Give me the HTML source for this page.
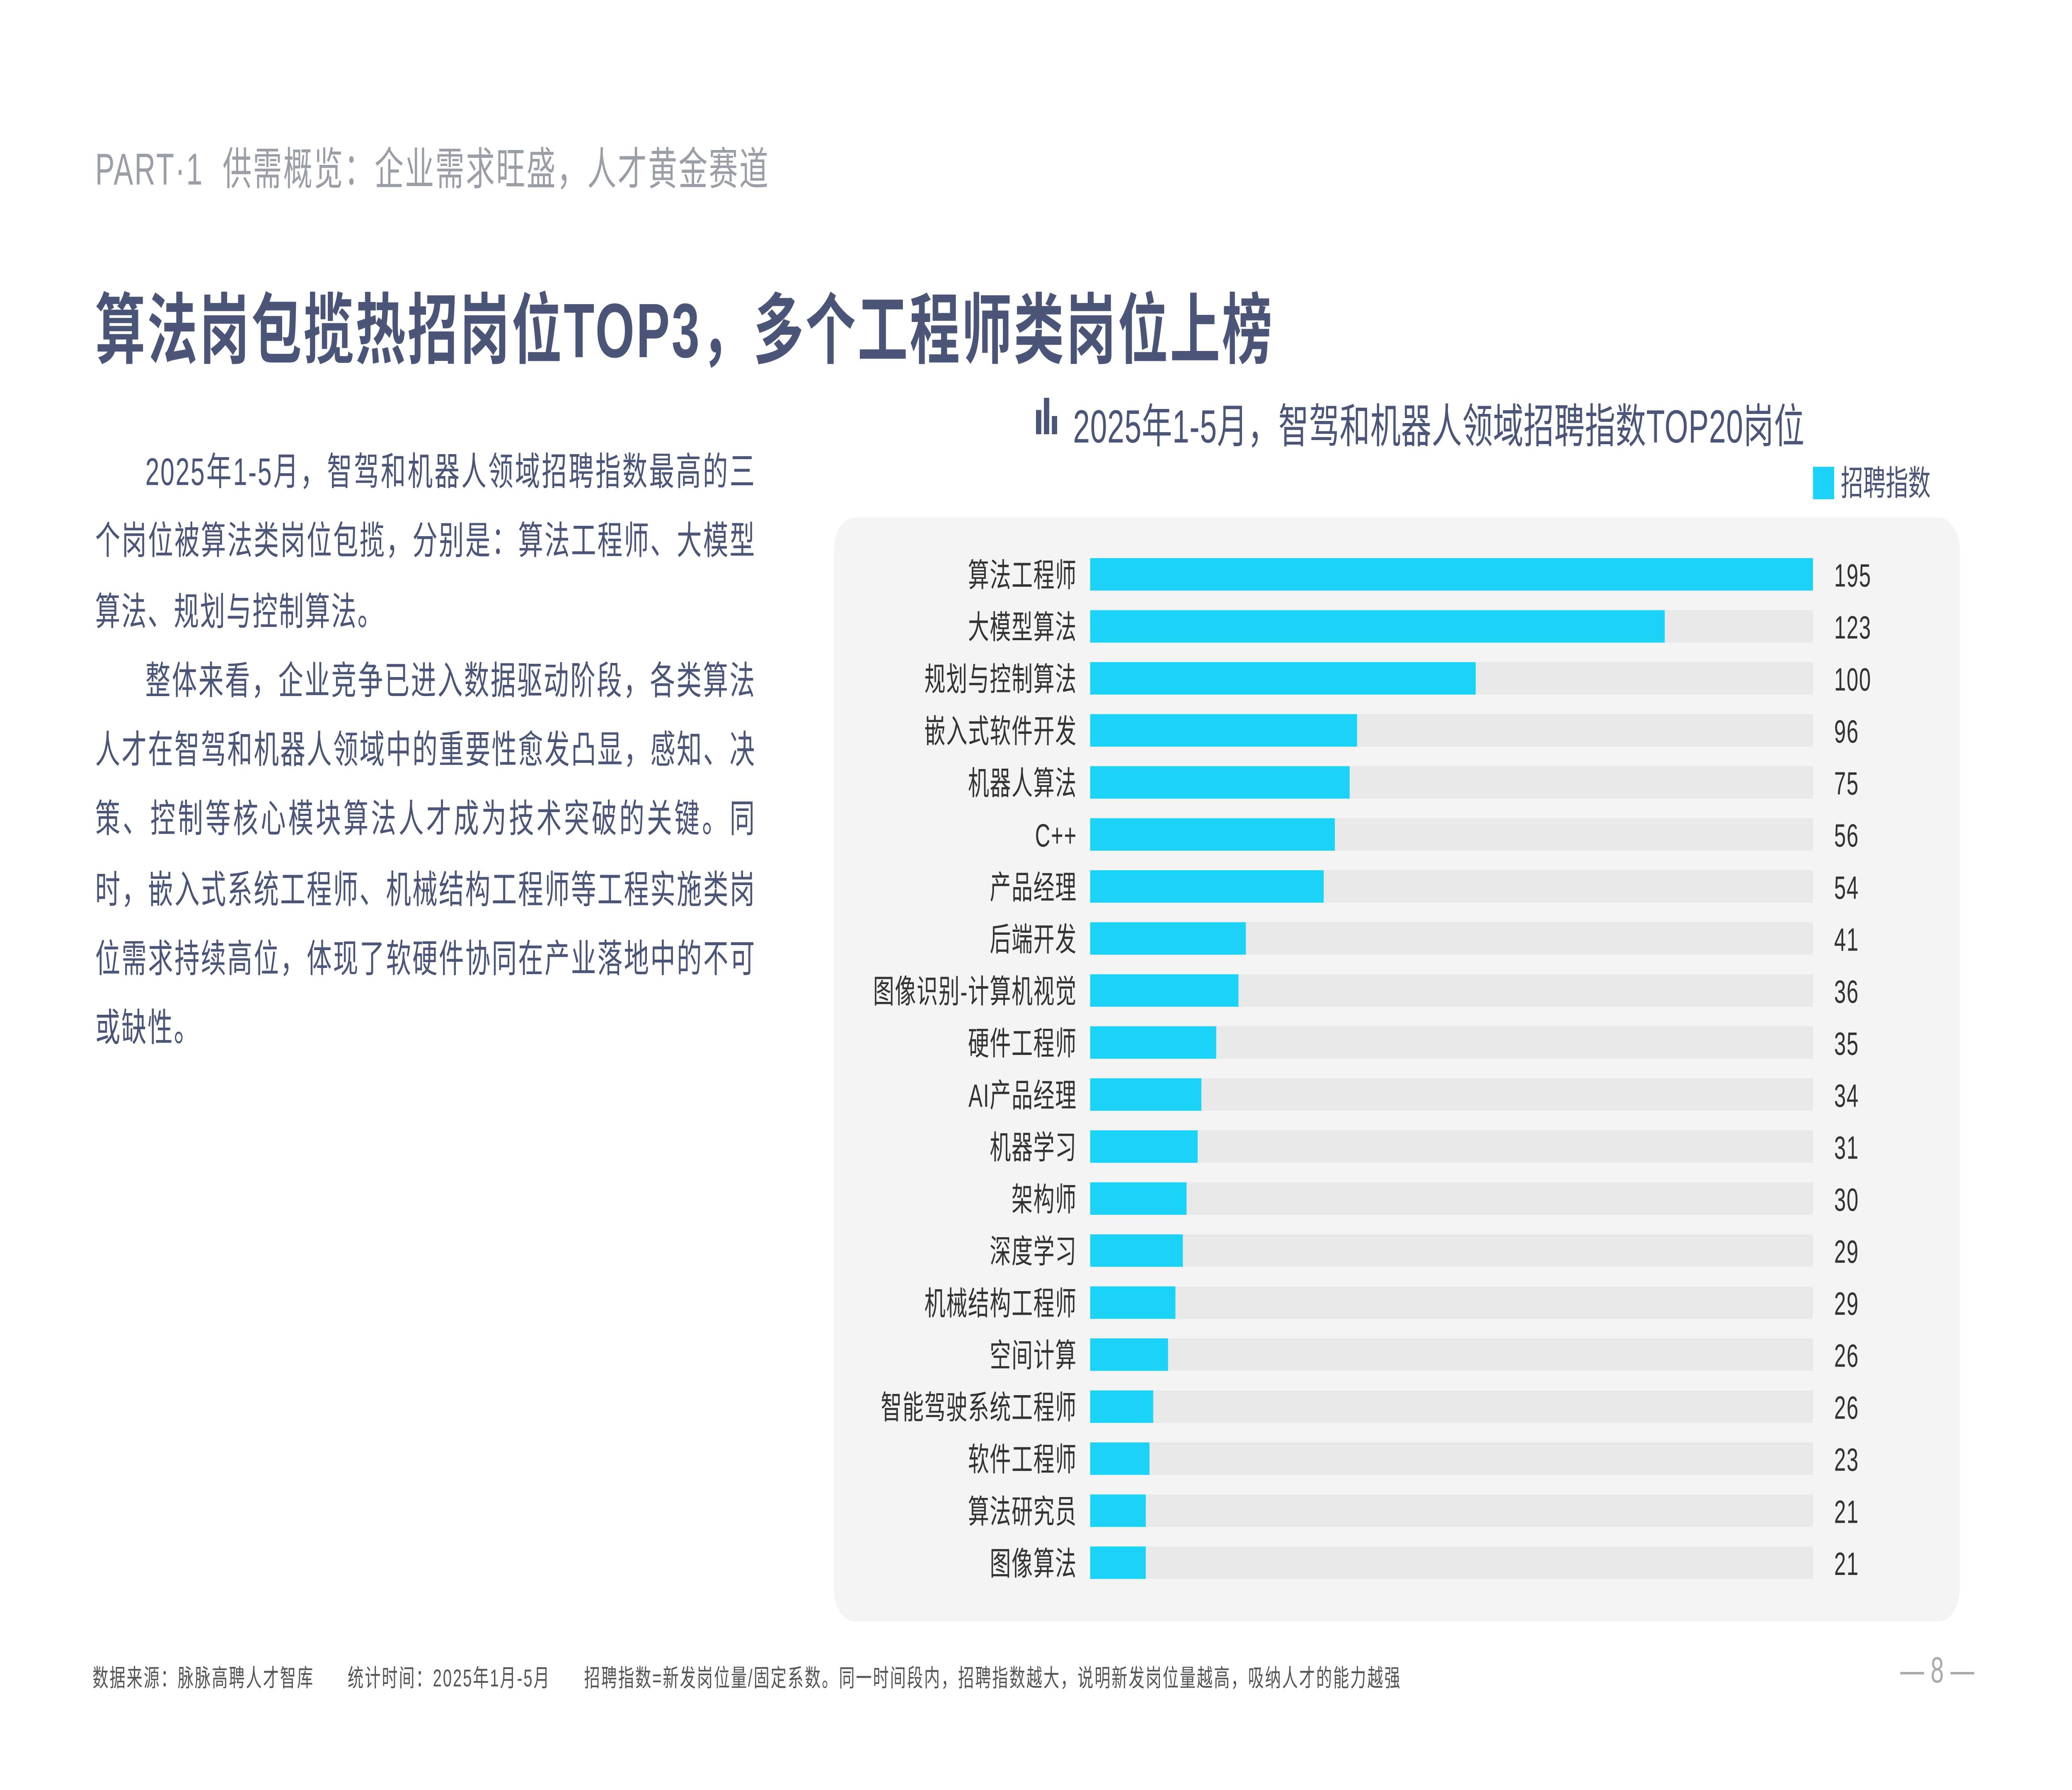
<!DOCTYPE html>
<html><head><meta charset="utf-8"><style>
html,body{margin:0;padding:0;background:#fff;overflow:hidden;}
#s{position:absolute;left:0;top:0;width:1568px;height:882px;transform:scale(4.898);transform-origin:0 0;font-family:"Liberation Sans","Noto Sans CJK SC",sans-serif;}
.a{position:absolute;white-space:nowrap;}
p{margin:0}
</style></head><body><div id="s">
<div class="a" style="left:72px;top:66px;font-size:22px;color:#9a9ea6;letter-spacing:1px">PART·1&nbsp; 供需概览：企业需求旺盛，人才黄金赛道</div>
<div class="a" style="left:72px;top:132px;font-size:38px;font-weight:bold;color:#4b5577;letter-spacing:1.4px">算法岗包揽热招岗位TOP3，多个工程师类岗位上榜</div>
<div class="a" style="left:72px;top:217px;width:500px;white-space:normal;font-size:19px;line-height:34.3px;color:#4b5577;text-align:justify;letter-spacing:0.85px">
<p style="text-indent:2em">2025年1-5月，智驾和机器人领域招聘指数最高的三个岗位被算法类岗位包揽，分别是：算法工程师、大模型算法、规划与控制算法。</p>
<p style="text-indent:2em">整体来看，企业竞争已进入数据驱动阶段，各类算法人才在智驾和机器人领域中的重要性愈发凸显，感知、决策、控制等核心模块算法人才成为技术突破的关键。同时，嵌入式系统工程师、机械结构工程师等工程实施类岗位需求持续高位，体现了软硬件协同在产业落地中的不可或缺性。</p></div>
<svg class="a" style="left:784px;top:196px" width="18" height="18"><rect x="0" y="6" width="4" height="12" fill="#4b5577"/><rect x="6" y="0" width="4" height="18" fill="#4b5577"/><rect x="12" y="9" width="4" height="9" fill="#4b5577"/></svg>
<div class="a" style="left:812px;top:191px;font-size:23px;color:#4b5577;letter-spacing:0.2px">2025年1-5月，智驾和机器人领域招聘指数TOP20岗位</div>
<div class="a" style="left:1372px;top:224px;font-size:17px;color:#4b5577"><span style="display:inline-block;width:16px;height:16px;background:#1ad3f7;vertical-align:-2px;margin-right:5px"></span>招聘指数</div>
<div class="a" style="left:631px;top:255px;width:852px;height:544px;background:#f4f4f4;border-radius:16px"></div>
<svg class="a" id="chart" style="left:0;top:0" width="1568" height="882"></svg>
<div class="a" style="left:70px;top:818px;font-size:12px;color:#555;letter-spacing:0.9px">数据来源：脉脉高聘人才智库&nbsp;&nbsp;&nbsp;&nbsp;&nbsp;&nbsp;统计时间：2025年1月-5月&nbsp;&nbsp;&nbsp;&nbsp;&nbsp;&nbsp;招聘指数=新发岗位量/固定系数。同一时间段内，招聘指数越大，说明新发岗位量越高，吸纳人才的能力越强</div>
<div class="a" style="left:1438px;top:813px;font-size:18px;color:#aaa">— 8 —</div>
</div>
<script>
(function(){var w=window.innerWidth||document.documentElement.clientWidth||7680;var h=window.innerHeight||document.documentElement.clientHeight||4320;var kx=w/1568,ky=h/882;document.getElementById('s').style.transform='scale('+kx+','+ky+')';document.documentElement.style.height=h+'px';document.body.style.height=h+'px';document.body.style.width=w+'px';})();
const categories=["算法工程师","大模型算法","规划与控制算法","嵌入式软件开发","机器人算法","C++","产品经理","后端开发","图像识别-计算机视觉","硬件工程师","AI产品经理","机器学习","架构师","深度学习","机械结构工程师","空间计算","智能驾驶系统工程师","软件工程师","算法研究员","图像算法"];
const labels=[195,123,100,96,75,56,54,41,36,35,34,31,30,29,29,26,26,23,21,21];
const barValues=[195,155,104,72,70,66,63,42,40,34,30,29,26,25,23,21,17,16,15,15];
const axisMax=195;
const NS="http://www.w3.org/2000/svg";
const svg=document.getElementById('chart');
const x0=825,x1=1372,yTop=283,yBot=770,bh=16;
function xs(v){return (v/axisMax)*(x1-x0);}
function ys(i){return yTop+i*(yBot-yTop)/(categories.length-1);}
function mk(t,a){const e=document.createElementNS(NS,t);for(const k in a)e.setAttribute(k,a[k]);svg.appendChild(e);return e;}
categories.forEach((c,i)=>{
const y=ys(i);
const tr=mk('rect',{x:x0,y:y-bh/2,width:x1-x0,height:bh,fill:'#e9e9e9'});


const b=mk('rect',{x:x0,y:y-bh/2,width:xs(barValues[i]),height:bh,fill:'#1ad3f7'});


const t=mk('text',{x:815,y:y+6,'text-anchor':'end','font-size':16,fill:'#333','letter-spacing':0.5});t.textContent=c;


const v=mk('text',{x:1388,y:y+6,'font-size':16,fill:'#333','letter-spacing':0.5});v.textContent=labels[i];


});
</script>
</body></html>
